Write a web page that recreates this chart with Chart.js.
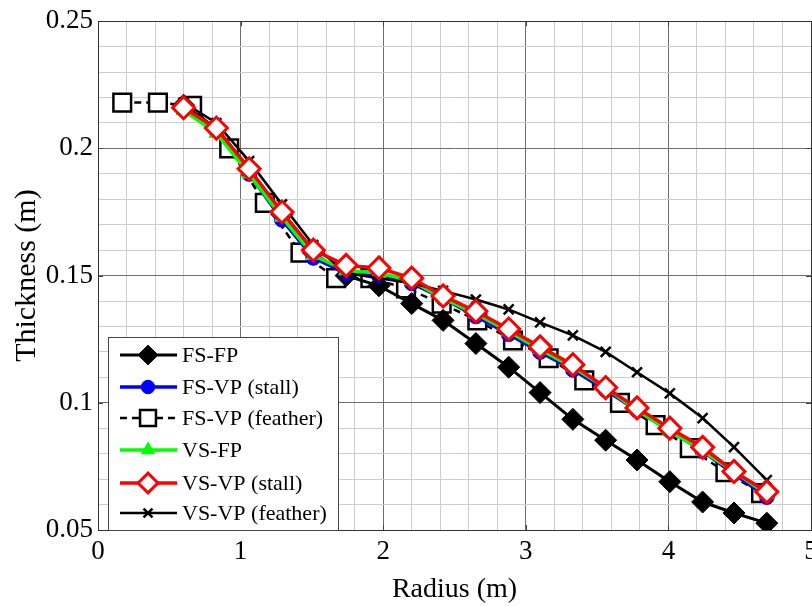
<!DOCTYPE html>
<html>
<head>
<meta charset="utf-8">
<script src="https://cdn.jsdelivr.net/npm/chart.js@4/dist/chart.umd.min.js"></script>
<style>
  html, body { margin: 0; padding: 0; background: #fff; overflow: hidden; }
  #wrap { width: 830px; height: 606px; }
</style>
</head>
<body>
<div id="wrap"><canvas id="thicknessChart" width="830" height="606"></canvas></div>
<script>
// radius stations (m)
const radius = [0.60, 0.83, 1.06, 1.29, 1.51, 1.74, 1.97, 2.20, 2.42, 2.65, 2.88, 3.10, 3.33, 3.56, 3.78, 4.01, 4.24, 4.46, 4.69];
const featherRadius = [0.17, 0.42, 0.66, 0.92, 1.17, 1.42, 1.67, 1.91, 2.16, 2.41, 2.66, 2.91, 3.16, 3.41, 3.66, 3.91, 4.15, 4.40, 4.65];

// thickness (m)
const fsFp = [0.217, 0.208, 0.192, 0.174, 0.159, 0.150, 0.146, 0.139, 0.1324, 0.1233, 0.114, 0.104, 0.0935, 0.0853, 0.0775, 0.069, 0.061, 0.0567, 0.0527];
const fsVpStall = [0.216, 0.207, 0.190, 0.172, 0.157, 0.151, 0.150, 0.147, 0.141, 0.134, 0.127, 0.120, 0.113, 0.105, 0.097, 0.089, 0.081, 0.072, 0.063];
const fsVpFeather = [0.218, 0.218, 0.2167, 0.200, 0.1786, 0.159, 0.149, 0.149, 0.145, 0.139, 0.1324, 0.1245, 0.1175, 0.1088, 0.100, 0.0912, 0.0822, 0.0727, 0.0645];
const vsFp = [0.215, 0.206, 0.190, 0.173, 0.158, 0.152, 0.151, 0.148, 0.141, 0.135, 0.128, 0.121, 0.114, 0.106, 0.097, 0.089, 0.081, 0.073, 0.064];
const vsVpStall = [0.216, 0.208, 0.192, 0.175, 0.160, 0.154, 0.153, 0.149, 0.142, 0.136, 0.129, 0.122, 0.115, 0.106, 0.098, 0.090, 0.0825, 0.073, 0.065];
const vsVpFeather = [0.218, 0.210, 0.195, 0.178, 0.162, 0.151, 0.149, 0.147, 0.144, 0.1406, 0.1367, 0.1316, 0.1265, 0.120, 0.112, 0.1037, 0.094, 0.0826, 0.0696];

const xTicks = [0, 1, 2, 3, 4, 5];
const yTicks = [0.05, 0.1, 0.15, 0.2, 0.25];

const seriesNames = ['FS-FP', 'FS-VP (stall)', 'FS-VP (feather)', 'VS-FP', 'VS-VP (stall)', 'VS-VP (feather)'];

function pts(xs, ys) {
  return xs.map((x, i) => ({ x: x, y: ys[i] }));
}

const serif = '"Liberation Serif", "DejaVu Serif", serif';

function isMajor(v, list) {
  return list.some(t => Math.abs(t - v) < 1e-6);
}

// frame, inner tick marks and legend box
const framePlugin = {
  id: 'frame',
  beforeDatasetsDraw(chart) {
    const ctx = chart.ctx;
    const a = chart.chartArea;
    const xs = chart.scales.x, ys = chart.scales.y;
    ctx.save();
    ctx.strokeStyle = '#444';
    ctx.lineWidth = 1;
    ctx.beginPath();
    xTicks.forEach(t => {
      const px = Math.round(xs.getPixelForValue(t)) + 0.5;
      ctx.moveTo(px, a.bottom); ctx.lineTo(px, a.bottom - 5);
      ctx.moveTo(px, a.top); ctx.lineTo(px, a.top + 5);
    });
    yTicks.forEach(t => {
      const py = Math.round(ys.getPixelForValue(t)) + 0.5;
      ctx.moveTo(a.left, py); ctx.lineTo(a.left + 5, py);
      ctx.moveTo(a.right, py); ctx.lineTo(a.right - 5, py);
    });
    ctx.stroke();
    ctx.strokeStyle = '#333';
    ctx.strokeRect(Math.round(a.left) + 0.5, Math.round(a.top) + 0.5, Math.round(a.right - a.left), Math.round(a.bottom - a.top));
    ctx.restore();
  },
  afterDatasetsDraw(chart) {
    const ctx = chart.ctx;
    const a = chart.chartArea;
    const box = { left: a.left + 10, top: 337, right: 338, bottom: a.bottom };
    ctx.save();
    ctx.fillStyle = '#fff';
    ctx.fillRect(box.left, box.top, box.right - box.left, box.bottom - box.top);
    ctx.strokeStyle = '#444';
    ctx.lineWidth = 1;
    ctx.strokeRect(box.left + 0.5, box.top + 0.5, box.right - box.left, box.bottom - box.top);
    const rowY = [355, 387, 418, 450, 483, 513];
    chart.data.datasets.forEach((ds, i) => {
      const y = rowY[i];
      ctx.save();
      ctx.strokeStyle = ds.borderColor;
      ctx.lineWidth = ds.borderWidth;
      ctx.setLineDash(ds.borderDash || []);
      ctx.beginPath();
      ctx.moveTo(120, y);
      ctx.lineTo(177, y);
      ctx.stroke();
      ctx.setLineDash([]);
      ctx.fillStyle = ds.pointBackgroundColor;
      ctx.strokeStyle = ds.pointBorderColor;
      ctx.lineWidth = ds.pointBorderWidth;
      Chart.helpers.drawPoint(ctx, {
        pointStyle: ds.pointStyle, rotation: 0,
        radius: ds.pointRadius * 0.9, borderWidth: ds.pointBorderWidth
      }, 148, y);
      ctx.restore();
      ctx.fillStyle = '#000';
      ctx.font = '22px ' + serif;
      ctx.textBaseline = 'middle';
      ctx.fillText(ds.label, 182, y + 1);
    });
    ctx.restore();
  }
};

const ctx = document.getElementById('thicknessChart').getContext('2d');
const thicknessChart = new Chart(ctx, {
  type: 'scatter',
  data: {
    datasets: [{
      label: seriesNames[0],
      data: pts(radius, fsFp),
      showLine: true,
      borderColor: '#000',
      borderWidth: 3,
      pointStyle: 'rectRot',
      pointRadius: 11,
      pointBackgroundColor: '#000',
      pointBorderColor: '#000',
      pointBorderWidth: 1,
      order: 4
    }, {
      label: seriesNames[1],
      data: pts(radius, fsVpStall),
      showLine: true,
      borderColor: '#0000ff',
      borderWidth: 3.5,
      pointStyle: 'circle',
      pointRadius: 7.5,
      pointBackgroundColor: '#0000ff',
      pointBorderColor: '#0000ff',
      pointBorderWidth: 1,
      order: 3
    }, {
      label: seriesNames[2],
      data: pts(featherRadius, fsVpFeather),
      showLine: true,
      borderColor: '#000',
      borderWidth: 2.5,
      borderDash: [7, 5],
      pointStyle: 'rect',
      pointRadius: 12.5,
      pointBackgroundColor: '#fff',
      pointBorderColor: '#000',
      pointBorderWidth: 2.5,
      order: 5
    }, {
      label: seriesNames[3],
      data: pts(radius, vsFp),
      showLine: true,
      borderColor: '#00ff00',
      borderWidth: 3.5,
      pointStyle: 'triangle',
      pointRadius: 8.5,
      pointBackgroundColor: '#00ff00',
      pointBorderColor: '#00ff00',
      pointBorderWidth: 1,
      order: 2
    }, {
      label: seriesNames[4],
      data: pts(radius, vsVpStall),
      showLine: true,
      borderColor: '#ff0000',
      borderWidth: 3.5,
      pointStyle: 'rectRot',
      pointRadius: 11,
      pointBackgroundColor: '#fff',
      pointBorderColor: '#ff0000',
      pointBorderWidth: 3,
      order: 0
    }, {
      label: seriesNames[5],
      data: pts(radius, vsVpFeather),
      showLine: true,
      borderColor: '#000',
      borderWidth: 2.5,
      pointStyle: 'crossRot',
      pointRadius: 7,
      pointBackgroundColor: '#000',
      pointBorderColor: '#000',
      pointBorderWidth: 2.5,
      order: 1
    }]
  },
  options: {
    responsive: false,
    animation: false,
    layout: { padding: { top: 20, right: 19, left: 0, bottom: 0 } },
    plugins: {
      legend: { display: false },
      tooltip: { enabled: false }
    },
    scales: {
      x: {
        type: 'linear',
        min: 0,
        max: 5,
        afterFit(scale) { scale.height = 76; },
        ticks: {
          stepSize: 0.2,
          autoSkip: false,
          maxRotation: 0,
          padding: 6,
          color: '#000',
          font: { family: serif, size: 27 },
          callback: v => isMajor(v, xTicks) ? String(Math.round(v)) : ''
        },
        grid: {
          drawTicks: false,
          color: c => isMajor(c.tick.value, xTicks) ? '#6e6e6e' : '#cdcdcd',
          lineWidth: 1
        },
        border: { display: false },
        title: {
          display: true,
          text: 'Radius (m)',
          color: '#000',
          font: { family: serif, size: 28 },
          padding: { top: 11, bottom: 0 }
        }
      },
      y: {
        type: 'linear',
        min: 0.05,
        max: 0.25,
        afterFit(scale) { scale.width = 98; },
        ticks: {
          stepSize: 0.01,
          autoSkip: false,
          padding: 5,
          color: '#000',
          font: { family: serif, size: 27 },
          callback: v => isMajor(v, yTicks) ? String(Math.round(v * 100) / 100) : ''
        },
        grid: {
          drawTicks: false,
          color: c => isMajor(c.tick.value, yTicks) ? '#6e6e6e' : '#cdcdcd',
          lineWidth: 1
        },
        border: { display: false },
        title: {
          display: true,
          text: 'Thickness (m)',
          color: '#000',
          font: { family: serif, size: 30 },
          padding: { top: 9, bottom: 0 }
        }
      }
    }
  },
  plugins: [framePlugin]
});
</script>
</body>
</html>
